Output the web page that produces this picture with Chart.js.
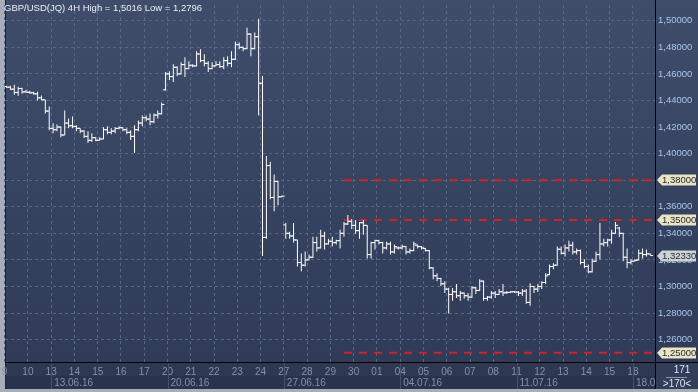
<!DOCTYPE html>
<html>
<head>
<meta charset="utf-8">
<script src="https://cdn.jsdelivr.net/npm/chart.js@4.4.1/dist/chart.umd.min.js"></script>
<style>
  html, body { margin: 0; padding: 0; background: #a7aeb9; }
</style>
</head>
<body>
<canvas id="gbpusd" width="698" height="392"></canvas>
<script>
// GBP/USD 4H bars, 9 June - 18 July 2016
const chartTitle = 'GBP/USD(JQ) 4H High = 1,5016 Low = 1,2796';
const barsPerDay = 6;
const dayLabels = ['9','10','13','14','15','16','17','20','21','22','23','24','27','28','29','30',
  '01','04','05','06','07','08','11','12','13','14','15','18'];
const weekLabels = ['13.06.16','20.06.16','27.06.16','04.07.16','11.07.16','18.07.16'];
const weekStartDays = [2, 7, 12, 17, 22, 27];

const opens = [
  1.4505,1.4500,1.4485,1.4460,1.4490,1.4465,1.4462,1.4458,1.4450,1.4420,
  1.4405,1.4320,1.4190,1.4180,1.4200,1.4140,1.4230,1.4210,1.4205,1.4190,
  1.4170,1.4130,1.4100,1.4120,1.4100,1.4110,1.4180,1.4160,1.4170,1.4190,
  1.4195,1.4180,1.4160,1.4130,1.4180,1.4230,1.4270,1.4260,1.4240,1.4290,
  1.4300,1.4480,1.4600,1.4580,1.4650,1.4600,1.4670,1.4640,1.4665,1.4660,
  1.4750,1.4700,1.4680,1.4640,1.4660,1.4670,1.4655,1.4700,1.4680,1.4710,
  1.4820,1.4800,1.4790,1.4900,1.4790,1.4880,1.4530,1.3370,1.3910,1.3670,
  1.3790,1.3675,1.3463,1.3400,1.3380,1.3350,1.3180,1.3160,1.3200,1.3220,
  1.3330,1.3290,1.3380,1.3320,1.3340,1.3330,1.3345,1.3400,1.3470,1.3490,
  1.3460,1.3420,1.3480,1.3460,1.3240,1.3330,1.3345,1.3330,1.3290,1.3320,
  1.3260,1.3290,1.3290,1.3300,1.3260,1.3270,1.3310,1.3300,1.3285,1.3270,
  1.3140,1.3080,1.3060,1.3020,1.2980,1.2940,1.2960,1.2930,1.2950,1.2930,
  1.2920,1.2990,1.2970,1.3040,1.2910,1.2920,1.2950,1.2940,1.2960,1.2955,
  1.2955,1.2960,1.2958,1.2950,1.2965,1.2880,1.3000,1.2980,1.3000,1.3030,
  1.3090,1.3150,1.3160,1.3280,1.3250,1.3290,1.3310,1.3260,1.3270,1.3180,
  1.3150,1.3110,1.3190,1.3240,1.3320,1.3330,1.3350,1.3400,1.3440,1.3400,
  1.3220,1.3180,1.3190,1.3200,1.3250,1.3240,1.3245
];
const highs = [
  1.4510,1.4510,1.4518,1.4503,1.4495,1.4480,1.4473,1.4466,1.4466,1.4438,
  1.4406,1.4354,1.4228,1.4220,1.4205,1.4324,1.4265,1.4280,1.4213,1.4191,
  1.4176,1.4169,1.4154,1.4124,1.4124,1.4198,1.4206,1.4191,1.4198,1.4206,
  1.4198,1.4191,1.4176,1.4213,1.4250,1.4287,1.4287,1.4302,1.4302,1.4324,
  1.4384,1.4614,1.4621,1.4673,1.4658,1.4688,1.4725,1.4696,1.4673,1.4770,
  1.4785,1.4748,1.4696,1.4688,1.4696,1.4696,1.4725,1.4733,1.4770,1.4844,
  1.4837,1.4807,1.4948,1.4906,1.4911,1.5016,1.4584,1.3983,1.3938,1.3842,
  1.3795,1.3685,1.3478,1.3411,1.3478,1.3352,1.3248,1.3263,1.3241,1.3374,
  1.3374,1.3426,1.3411,1.3359,1.3374,1.3352,1.3426,1.3486,1.3537,1.3507,
  1.3500,1.3486,1.3500,1.3463,1.3337,1.3352,1.3352,1.3337,1.3337,1.3337,
  1.3315,1.3300,1.3315,1.3305,1.3285,1.3337,1.3315,1.3305,1.3290,1.3275,
  1.3145,1.3099,1.3065,1.3040,1.2990,1.2988,1.3018,1.2966,1.2955,1.2951,
  1.3003,1.2995,1.3055,1.3045,1.2929,1.2966,1.2966,1.2981,1.3018,1.2966,
  1.2966,1.2966,1.2966,1.2981,1.2981,1.3025,1.3003,1.3018,1.3040,1.3099,
  1.3166,1.3174,1.3300,1.3300,1.3315,1.3344,1.3337,1.3285,1.3278,1.3204,
  1.3166,1.3211,1.3263,1.3478,1.3359,1.3359,1.3426,1.3486,1.3448,1.3405,
  1.3285,1.3204,1.3204,1.3278,1.3285,1.3278,1.3248
];
const lows = [
  1.4495,1.4480,1.4443,1.4436,1.4451,1.4458,1.4451,1.4443,1.4399,1.4401,
  1.4302,1.4176,1.4154,1.4169,1.4124,1.4139,1.4191,1.4191,1.4169,1.4154,
  1.4117,1.4079,1.4087,1.4094,1.4098,1.4108,1.4146,1.4146,1.4154,1.4184,
  1.4169,1.4146,1.4102,1.4005,1.4169,1.4206,1.4243,1.4213,1.4228,1.4265,
  1.4295,1.4473,1.4555,1.4540,1.4584,1.4595,1.4577,1.4635,1.4651,1.4658,
  1.4688,1.4658,1.4614,1.4636,1.4658,1.4644,1.4636,1.4658,1.4651,1.4705,
  1.4785,1.4770,1.4785,1.4733,1.4785,1.4287,1.3229,1.3360,1.3656,1.3567,
  1.3612,1.3672,1.3359,1.3359,1.3330,1.3151,1.3114,1.3151,1.3198,1.3215,
  1.3263,1.3285,1.3278,1.3315,1.3300,1.3315,1.3285,1.3374,1.3463,1.3433,
  1.3396,1.3359,1.3389,1.3211,1.3211,1.3278,1.3315,1.3248,1.3278,1.3241,
  1.3248,1.3278,1.3278,1.3241,1.3248,1.3265,1.3285,1.3278,1.3263,1.3129,
  1.3055,1.3040,1.3003,1.2951,1.2796,1.2892,1.2914,1.2892,1.2907,1.2892,
  1.2914,1.2944,1.2966,1.2892,1.2892,1.2907,1.2914,1.2936,1.2929,1.2944,
  1.2951,1.2951,1.2929,1.2929,1.2869,1.2854,1.2951,1.2959,1.2981,1.3018,
  1.3085,1.3129,1.3155,1.3241,1.3226,1.3263,1.3241,1.3241,1.3166,1.3137,
  1.3099,1.3105,1.3185,1.3204,1.3300,1.3300,1.3322,1.3396,1.3374,1.3189,
  1.3137,1.3166,1.3189,1.3195,1.3211,1.3226,1.3233
];
const closes = [
  1.4500,1.4485,1.4460,1.4490,1.4465,1.4462,1.4458,1.4450,1.4420,1.4405,
  1.4320,1.4190,1.4180,1.4200,1.4140,1.4230,1.4210,1.4205,1.4190,1.4170,
  1.4130,1.4100,1.4120,1.4100,1.4110,1.4180,1.4160,1.4170,1.4190,1.4195,
  1.4180,1.4160,1.4130,1.4180,1.4230,1.4270,1.4260,1.4240,1.4290,1.4300,
  1.4370,1.4600,1.4580,1.4650,1.4600,1.4670,1.4640,1.4665,1.4660,1.4750,
  1.4700,1.4680,1.4640,1.4660,1.4670,1.4655,1.4700,1.4680,1.4710,1.4820,
  1.4800,1.4790,1.4900,1.4790,1.4880,1.4530,1.3369,1.3910,1.3670,1.3790,
  1.3675,1.3680,1.3400,1.3380,1.3350,1.3180,1.3160,1.3200,1.3220,1.3330,
  1.3290,1.3380,1.3320,1.3340,1.3330,1.3345,1.3400,1.3470,1.3490,1.3460,
  1.3420,1.3480,1.3460,1.3240,1.3330,1.3345,1.3330,1.3290,1.3320,1.3260,
  1.3300,1.3290,1.3300,1.3260,1.3270,1.3320,1.3300,1.3290,1.3270,1.3140,
  1.3080,1.3060,1.3020,1.2980,1.2940,1.2960,1.2930,1.2950,1.2930,1.2920,
  1.2990,1.2970,1.3040,1.2910,1.2920,1.2950,1.2940,1.2960,1.2950,1.2955,
  1.2960,1.2958,1.2950,1.2965,1.2880,1.3000,1.2980,1.3000,1.3030,1.3080,
  1.3150,1.3160,1.3280,1.3250,1.3290,1.3310,1.3260,1.3270,1.3180,1.3150,
  1.3110,1.3190,1.3240,1.3320,1.3330,1.3350,1.3400,1.3460,1.3400,1.3220,
  1.3180,1.3190,1.3195,1.3250,1.3240,1.3245,1.3233
];

const levels = [1.38, 1.35, 1.25];
const levelStart = 87;
const lastPrice = 1.3233;
const priceTicks = [1.26,1.28,1.30,1.32,1.34,1.36,1.38,1.40,1.42,1.44,1.46,1.48,1.50];
const barCountText = '171';
const rangeText = '>170<';

const xMin = -0.4, xMax = 167.2;
const yMin = 1.24313, yMax = 1.51188;

const fontFamily = "'Liberation Sans', Arial, sans-serif";
const gridColor = '#56678a';
const fmtPrice = v => v.toFixed(5).replace('.', ',');

const barIdx = opens.map((_, i) => i);
const dayTicks = dayLabels.map((_, k) => k * barsPerDay - 0.5);
const weekTicks = weekStartDays.map(k => k * barsPerDay - 0.5);

const backdrop = {
  id: 'backdrop',
  beforeDraw(chart) {
    const {ctx, chartArea: a, width} = chart;
    ctx.save();
    ctx.fillStyle = '#a7aeb9';
    ctx.fillRect(0, 0, width, chart.height);
    const g = ctx.createLinearGradient(0, 0, 0, a.bottom);
    g.addColorStop(0, '#3f4d6b');
    g.addColorStop(1, '#2f3b57');
    ctx.fillStyle = g;
    ctx.fillRect(a.left, 0, width - a.left, a.bottom);
    ctx.fillStyle = '#2e3853';
    ctx.fillRect(a.left, a.bottom, width - a.left, 27);
    ctx.fillStyle = '#2a334c';
    ctx.fillRect(a.left, a.bottom + 14, width - a.left, 13);
    ctx.fillStyle = '#1c2335';
    ctx.fillRect(a.left, 0, 1, a.bottom + 27);
    ctx.restore();
  }
};

function drawTag(ctx, y, text, fill) {
  ctx.fillStyle = fill;
  ctx.beginPath();
  ctx.moveTo(657, y);
  ctx.lineTo(662, y - 5.5);
  ctx.lineTo(696, y - 5.5);
  ctx.lineTo(696, y + 5.5);
  ctx.lineTo(662, y + 5.5);
  ctx.closePath();
  ctx.fill();
  ctx.fillStyle = '#2b2b2b';
  ctx.textAlign = 'left';
  ctx.textBaseline = 'middle';
  ctx.fillText(text, 662, y + 0.5);
}

const overlay = {
  id: 'overlay',
  afterDraw(chart) {
    const {ctx, chartArea: a} = chart;
    const xs = chart.scales.x, ys = chart.scales.y;
    ctx.save();
    // week separators in the date band
    ctx.fillStyle = '#45526e';
    weekTicks.forEach(v => {
      const px = Math.round(xs.getPixelForValue(v));
      ctx.fillRect(px, a.bottom + 1, 1, 26);
    });
    // bar counter box
    ctx.fillStyle = '#323d58';
    ctx.fillRect(a.right, a.bottom, 698 - a.right, 27);
    ctx.fillStyle = '#000';
    ctx.fillRect(a.right, 0, 1, a.bottom + 27);
    ctx.fillRect(a.left, a.bottom, 698 - a.left, 1);
    ctx.font = '10px ' + fontFamily;
    ctx.fillStyle = '#dfe6f1';
    ctx.textAlign = 'center';
    ctx.textBaseline = 'middle';
    ctx.fillText(barCountText, 682, 370);
    ctx.fillText(rangeText, 677, 384);
    ctx.fillStyle = '#8a96ab';
    ctx.fillRect(666, 377, 21, 1);
    // price tags on the right axis
    ctx.font = '9.5px ' + fontFamily;
    levels.forEach(v => drawTag(ctx, Math.round(ys.getPixelForValue(v)), fmtPrice(v), '#e8e4c6'));
    drawTag(ctx, Math.round(ys.getPixelForValue(lastPrice)), fmtPrice(lastPrice), '#cdd1d8');
    // title
    ctx.font = '9.5px ' + fontFamily;
    ctx.textAlign = 'left';
    ctx.fillStyle = '#e8eef8';
    ctx.fillText(chartTitle, 4, 8);
    ctx.restore();
  }
};

const levelSets = levels.map(v => ({
  type: 'line',
  data: [{x: levelStart, y: v}, {x: xMax, y: v}],
  borderColor: '#cf2327',
  borderWidth: 2,
  borderDash: [8, 7],
  pointRadius: 0,
  order: 3
}));

new Chart(document.getElementById('gbpusd'), {
  type: 'bar',
  data: {
    datasets: [
      {
        type: 'bar',
        data: barIdx.map(i => ({x: i, y: [lows[i], highs[i]]})),
        backgroundColor: '#ffffff',
        borderWidth: 0,
        barThickness: 1,
        inflateAmount: 0,
        order: 1
      },
      {
        type: 'line',
        data: barIdx.map(i => ({x: i - 0.36, y: opens[i]})),
        showLine: false,
        pointStyle: 'line',
        pointRadius: 1.3,
        pointBorderColor: '#ffffff',
        pointBorderWidth: 1,
        order: 1
      },
      {
        type: 'line',
        data: barIdx.map(i => ({x: i + 0.36, y: closes[i]})),
        showLine: false,
        pointStyle: 'line',
        pointRadius: 1.3,
        pointBorderColor: '#ffffff',
        pointBorderWidth: 1,
        order: 1
      },
      ...levelSets
    ]
  },
  options: {
    responsive: false,
    devicePixelRatio: 1,
    animation: false,
    layout: { padding: { left: 2, right: 0, top: 0, bottom: 3 } },
    plugins: { legend: { display: false }, tooltip: { enabled: false } },
    scales: {
      x: {
        type: 'linear', position: 'bottom', weight: 0,
        min: xMin, max: xMax, offset: false,
        afterBuildTicks: s => { s.ticks = dayTicks.map(v => ({value: v})); },
        afterFit: s => { s.height = 13; s.paddingLeft = 0; s.paddingRight = 0; },
        ticks: {
          autoSkip: false, maxRotation: 0, padding: 4,
          color: '#8491a9', font: { family: fontFamily, size: 10 },
          callback: (v, i) => dayLabels[i]
        },
        grid: { color: gridColor, drawTicks: false, offset: false },
        border: { color: '#000000', width: 1, dash: [3, 3] }
      },
      x2: {
        type: 'linear', position: 'bottom', weight: 1,
        min: xMin, max: xMax, offset: false,
        afterBuildTicks: s => { s.ticks = weekTicks.map(v => ({value: v})); },
        afterFit: s => { s.height = 14; s.paddingLeft = 0; s.paddingRight = 0; },
        ticks: {
          autoSkip: false, maxRotation: 0, padding: 2, align: 'start', labelOffset: 3,
          color: '#8491a9', font: { family: fontFamily, size: 10 },
          callback: (v, i) => weekLabels[i]
        },
        grid: { display: false, drawTicks: false },
        border: { display: false }
      },
      y: {
        type: 'linear', position: 'right',
        min: yMin, max: yMax,
        afterBuildTicks: s => { s.ticks = priceTicks.map(v => ({value: v})); },
        afterFit: s => { s.width = 43; s.paddingTop = 0; s.paddingBottom = 0; },
        ticks: {
          padding: 3, color: '#a8c6ee', font: { family: fontFamily, size: 9.5 },
          callback: v => fmtPrice(v)
        },
        grid: { color: gridColor, drawTicks: false },
        border: { color: '#000000', width: 1, dash: [3, 3] }
      }
    }
  },
  plugins: [backdrop, overlay]
});
</script>
</body>
</html>
